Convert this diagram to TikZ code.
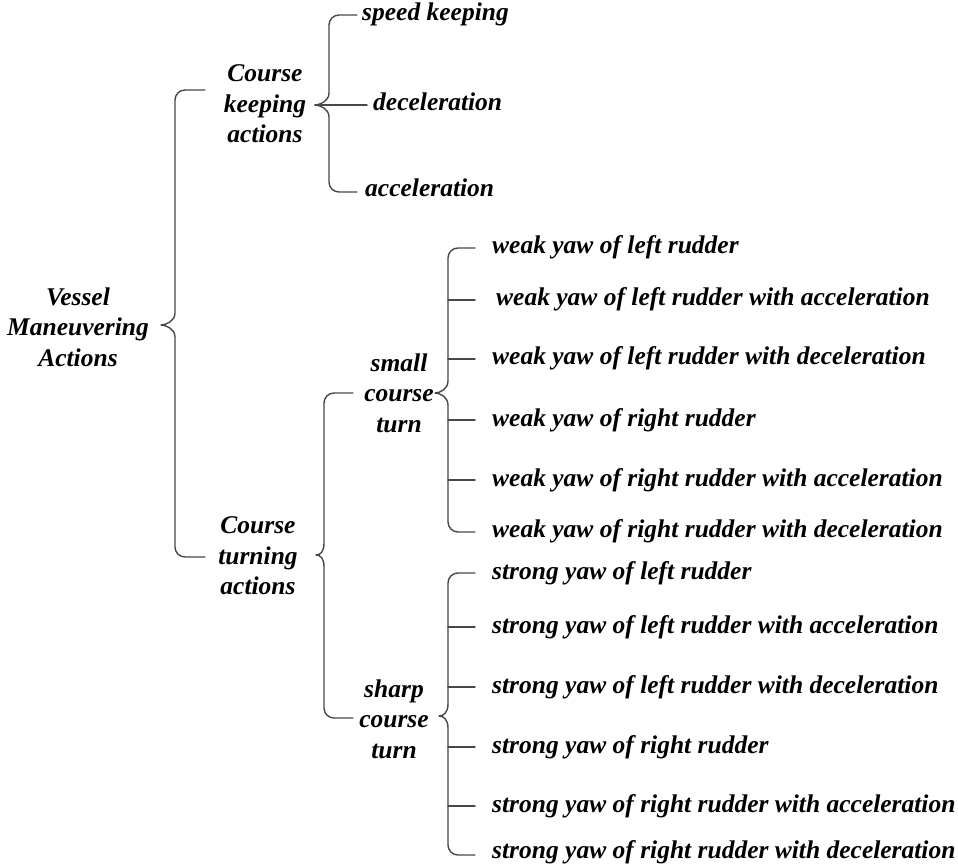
\documentclass[tikz,border=0pt]{standalone}
\usepackage{fontspec}
\setmainfont{Liberation Serif}
% curly bracket: arm end x, spine x, top y, bottom y, tip x, tip y
\newcommand{\curlyb}[6]{%
  \draw[brace] (#1,#3) -- (#2+10,#3)
    .. controls (#2+4.5,#3) and (#2,#3+4.5) .. (#2,#3+10) -- (#2,#6-12)
    .. controls (#2,#6-4) and (#5+5,#6) .. (#5,#6)
    .. controls (#5+5,#6) and (#2,#6+4) .. (#2,#6+12) -- (#2,#4-10)
    .. controls (#2,#4-4.5) and (#2+4.5,#4) .. (#2+10,#4) -- (#1,#4);}
\begin{document}
\begin{tikzpicture}[x=1pt,y=-1pt,
  lbl/.style={font=\fontsize{25.5}{30.5}\selectfont\bfseries\itshape, inner sep=0pt, text=black},
  leaf/.style={lbl, anchor=west, text height=1.2em, text depth=0em},
  group/.style={lbl, align=center},
  brace/.style={draw=black!72, line width=1.4pt, line join=round, line cap=round}]
\useasboundingbox (0,0) rectangle (958,866);

% category labels
\node[group] (vma) at (78,327) {Vessel\\Maneuvering\\Actions};
\node[group] (ck) at (265,104) {Course\\keeping\\actions};
\node[group] (ct) at (258,556) {Course\\turning\\actions};
\node[group] (sc) at (399,393) {small\\course\\turn};
\node[group] (sh) at (394,719) {sharp\\course\\turn};

% course keeping actions
\node[leaf] (k1) at (362,15) {speed keeping};
\node[leaf] (k2) at (373,105) {deceleration};
\node[leaf] (k3) at (365,191) {acceleration};

% small course turn actions
\node[leaf] (s1) at (492,248) {weak yaw of left rudder};
\node[leaf] (s2) at (496,300) {weak yaw of left rudder with acceleration};
\node[leaf] (s3) at (492,359) {weak yaw of left rudder with deceleration};
\node[leaf] (s4) at (492,420) {weak yaw of right rudder};
\node[leaf] (s5) at (492,480) {weak yaw of right rudder with acceleration};
\node[leaf] (s6) at (492,531) {weak yaw of right rudder with deceleration};

% sharp course turn actions
\node[leaf] (t1) at (492,573) {strong yaw of left rudder};
\node[leaf] (t2) at (492,627) {strong yaw of left rudder with acceleration};
\node[leaf] (t3) at (492,687) {strong yaw of left rudder with deceleration};
\node[leaf] (t4) at (492,747) {strong yaw of right rudder};
\node[leaf] (t5) at (492,806) {strong yaw of right rudder with acceleration};
\node[leaf] (t6) at (492,852) {strong yaw of right rudder with deceleration};

% brackets
\curlyb{205}{175}{90}{557}{161}{325}
\curlyb{357}{329}{15}{192}{315}{105}
\curlyb{353}{324}{393}{718}{316}{555}
\curlyb{475}{448}{248}{532}{435}{393}
\curlyb{475}{448}{573}{855}{439}{716}

\coordinate (ckTip) at (315,105);
\coordinate (smallV) at (448,0);
\coordinate (sharpV) at (448,0);

% middle branch of course keeping
\draw[brace] (ckTip) -- ([xshift=-6]k2.west);

% inner branches
\foreach \n in {s2,s3,s4,s5}
  \draw[brace] (\n.west -| smallV) -- ([xshift=-17]\n.west -| s3.west);
\foreach \n in {t2,t3,t4,t5}
  \draw[brace] (\n.west -| sharpV) -- ([xshift=-17]\n.west -| t3.west);
\end{tikzpicture}
\end{document}
